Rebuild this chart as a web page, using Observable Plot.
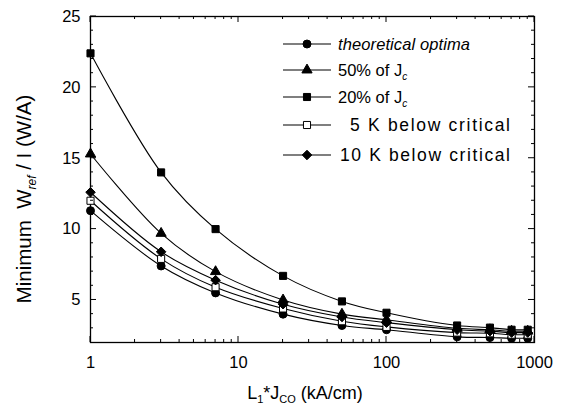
<!DOCTYPE html>
<html>
<head>
<meta charset="utf-8">
<script src="https://cdn.jsdelivr.net/npm/d3@7"></script>
<script src="https://cdn.jsdelivr.net/npm/@observablehq/plot@0.6"></script>
<style>
  html, body { margin: 0; padding: 0; background: #fff; }
  #chart svg { display: block; }
</style>
</head>
<body>
<div id="chart"></div>
<script>
// ---- data ----
const xValues = [1, 3, 7, 20, 50, 100, 300, 500, 700, 900];
const theoretical = [11.3, 7.4, 5.5, 4.0, 3.2, 2.9, 2.4, 2.35, 2.3, 2.3];
const pct50 = [15.3, 9.7, 7.0, 5.0, 4.0, 3.6, 3.0, 2.9, 2.8, 2.8];
const pct20 = [22.4, 14.0, 10.0, 6.7, 4.9, 4.1, 3.2, 3.05, 2.9, 2.9];
const k5 = [12.0, 7.9, 5.9, 4.4, 3.5, 3.1, 2.7, 2.65, 2.55, 2.55];
const k10 = [12.6, 8.4, 6.4, 4.7, 3.8, 3.4, 2.9, 2.8, 2.7, 2.7];
const seriesNames = ["theoretical optima", "50% of Jc", "20% of Jc", "5 K below critical", "10 K below critical"];
const seriesValues = [theoretical, pct50, pct20, k5, k10];
const seriesSymbols = ["circle", "triangle", "square", "square", "diamond2"];
const seriesFills = ["black", "black", "black", "white", "black"];
const xTickLabels = [1, 10, 100, 1000];
const yTickLabels = [5, 10, 15, 20, 25];

// ---- tidy table ----
const rows = [];
seriesNames.forEach((s, i) => xValues.forEach((x, j) => rows.push({series: s, idx: i, x, y: seriesValues[i][j]})));

const xMinor = [];
[1, 10, 100].forEach(d => { for (let k = 2; k <= 9; k++) xMinor.push(d * k); });
const yMinor = d3.range(3, 25).filter(v => v % 5 !== 0);

const font = "'Liberation Sans', Arial, Helvetica, sans-serif";
const symSizes = {circle: 4, triangle: 3.8, square: 4, diamond2: 4.3};

const marks = [
  Plot.frame({stroke: "black", strokeWidth: 1.3}),
  Plot.axisX({ticks: xTickLabels, tickSize: 0, tickPadding: 14, tickFormat: d => String(d), fontSize: 16.5}),
  Plot.axisY({ticks: yTickLabels, tickSize: 0, tickPadding: 10, tickFormat: d => String(d), fontSize: 16.5}),
  Plot.line(rows, {x: "x", y: "y", z: "series", stroke: "black", strokeWidth: 1.1, curve: "catmull-rom"})
];
seriesNames.forEach((s, i) => {
  marks.push(Plot.dot(rows.filter(r => r.idx === i), {
    x: "x", y: "y", symbol: () => seriesSymbols[i], r: symSizes[seriesSymbols[i]],
    fill: seriesFills[i], stroke: "black", strokeWidth: 1
  }));
});

const chart = Plot.plot({
  width: 562, height: 412,
  marginLeft: 90, marginRight: 28, marginTop: 16, marginBottom: 70,
  style: {fontFamily: font, color: "black", background: "white"},
  x: {type: "log", domain: [1, 1000], label: null},
  y: {domain: [2, 25], label: null},
  symbol: {type: "identity"},
  marks
});

const svg = d3.select(chart);
const sx = chart.scale("x"), sy = chart.scale("y");
const X0 = sx.apply(1), X1 = sx.apply(1000), Y0 = sy.apply(2), Y1 = sy.apply(25);

// ---- inward ticks on all four sides ----
const tg = svg.append("g").attr("stroke", "black").attr("stroke-width", 1);
const tick = (x1, y1, x2, y2) => tg.append("line").attr("x1", x1).attr("y1", y1).attr("x2", x2).attr("y2", y2);
xTickLabels.forEach(v => { const x = sx.apply(v); tick(x, Y0, x, Y0 - 6); tick(x, Y1, x, Y1 + 6); });
xMinor.forEach(v => { const x = sx.apply(v); tick(x, Y0, x, Y0 - 3); tick(x, Y1, x, Y1 + 3); });
yTickLabels.forEach(v => { const y = sy.apply(v); tick(X0, y, X0 + 6, y); tick(X1, y, X1 - 6, y); });
yMinor.forEach(v => { const y = sy.apply(v); tick(X0, y, X0 + 3, y); tick(X1, y, X1 - 3, y); });

// ---- legend ----
const lg = svg.append("g").attr("font-family", font).attr("font-size", 16.5).attr("text-anchor", "start");
const legY = [44, 70, 97, 125, 155];
const legX = [338, 338, 338, 350, 340];
const legLen = [132, null, null, 160, 170];
const legSize = [16.5, 16.5, 16.5, 17.5, 17.5];
const symMap = {circle: d3.symbolCircle, triangle: d3.symbolTriangle, square: d3.symbolSquare, diamond2: d3.symbolDiamond2};
seriesNames.forEach((s, i) => {
  const y = legY[i];
  lg.append("line").attr("x1", 283).attr("x2", 331).attr("y1", y).attr("y2", y)
    .attr("stroke", "black").attr("stroke-width", 1.1);
  const r = symSizes[seriesSymbols[i]];
  lg.append("path").attr("d", d3.symbol(symMap[seriesSymbols[i]], Math.PI * r * r)())
    .attr("transform", `translate(307,${y})`)
    .attr("fill", seriesFills[i]).attr("stroke", "black").attr("stroke-width", 1);
  const t = lg.append("text").attr("x", legX[i]).attr("y", y).attr("dy", "0.36em").attr("font-size", legSize[i]);
  if (legLen[i]) t.attr("textLength", legLen[i]).attr("lengthAdjust", "spacing");
  if (i === 0) {
    t.attr("font-style", "italic").text(s);
  } else if (i === 1 || i === 2) {
    t.append("tspan").text(s.slice(0, -1));
    t.append("tspan").attr("font-size", 10).attr("font-style", "italic").attr("dy", 4).text("c");
  } else {
    t.text(s);
  }
});

// ---- axis titles ----
const xt = svg.append("text").attr("font-family", font).attr("font-size", 18)
  .attr("x", 305).attr("y", 399).attr("text-anchor", "middle");
xt.append("tspan").text("L");
xt.append("tspan").attr("font-size", 11).attr("dy", 4).text("1");
xt.append("tspan").attr("dy", -4).text("*J");
xt.append("tspan").attr("font-size", 11).attr("dy", 4).text("CO");
xt.append("tspan").attr("dy", -4).text(" (kA/cm)");

const yt = svg.append("text").attr("font-family", font).attr("font-size", 20.5)
  .attr("transform", "translate(31,199) rotate(-90)").attr("text-anchor", "middle");
yt.append("tspan").text("Minimum  W");
yt.append("tspan").attr("font-size", 12).attr("font-style", "italic").attr("dy", 5).text("ref");
yt.append("tspan").attr("dy", -5).text(" / I (W/A)");

document.getElementById("chart").appendChild(chart);
</script>
</body>
</html>
